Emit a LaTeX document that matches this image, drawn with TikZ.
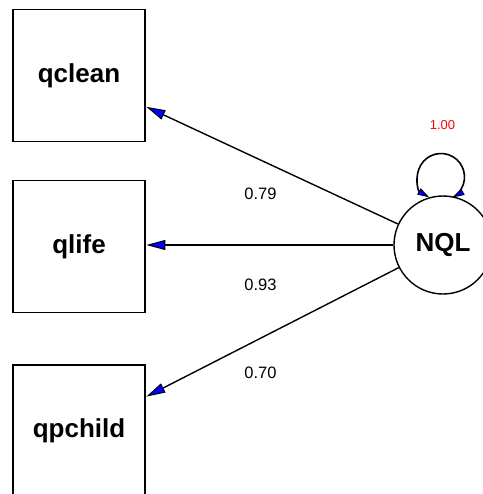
\documentclass[tikz,border=0pt]{standalone}
\usepackage{fontspec}
\setmainfont{Liberation Sans}
\usetikzlibrary{arrows.meta}
\begin{document}
\begin{tikzpicture}[x=1pt,y=-1pt,
  manifest/.style={draw, line width=1.8pt, minimum size=132pt, inner sep=0pt,
    font=\fontsize{26}{30}\selectfont\bfseries},
  latent/.style={draw, circle, line width=1.4pt, minimum size=98pt, inner sep=0pt,
    font=\fontsize{26}{30}\selectfont\bfseries},
  loading/.style={line width=1.4pt, -{Triangle[length=19pt, width=10pt, fill=blue, line width=1pt]}, shorten >=0.5pt},
  looptip/.tip={Triangle[length=12pt, width=7pt, fill=blue, line width=0.8pt]},
  varloop/.style={line width=1.6pt, looptip-looptip},
  coef/.style={font=\fontsize{16.5}{19}\selectfont, inner sep=0pt}
]
\useasboundingbox (0,0) rectangle (482,494);

\node[manifest] (qclean)  at (79,75.5)  {qclean};
\node[manifest] (qlife)   at (79,246.5) {qlife};
\node[manifest] (qpchild) at (79,431)   {qpchild};
\node[latent]   (NQL)     at (443,245)  {NQL};

\draw[loading] (NQL) -- (qclean);
\draw[loading] (NQL.west) -- (qlife.east |- NQL.west);
\draw[loading] (NQL) -- (qpchild);

% variance loop above the latent factor
\coordinate (loopc) at (441,177);
\draw[varloop] ([shift={(120:23.5)}]loopc) arc[start angle=120, end angle=421, radius=23.5];

\node[coef] (l1) at (260.5,194) {0.79};
\node[coef] (l2) at (260.5,285) {0.93};
\node[coef] (l3) at (260.5,373) {0.70};
\node[coef, text=red, font=\fontsize{13}{15}\selectfont] (v1) at (442.5,125) {1.00};
\end{tikzpicture}
\end{document}
